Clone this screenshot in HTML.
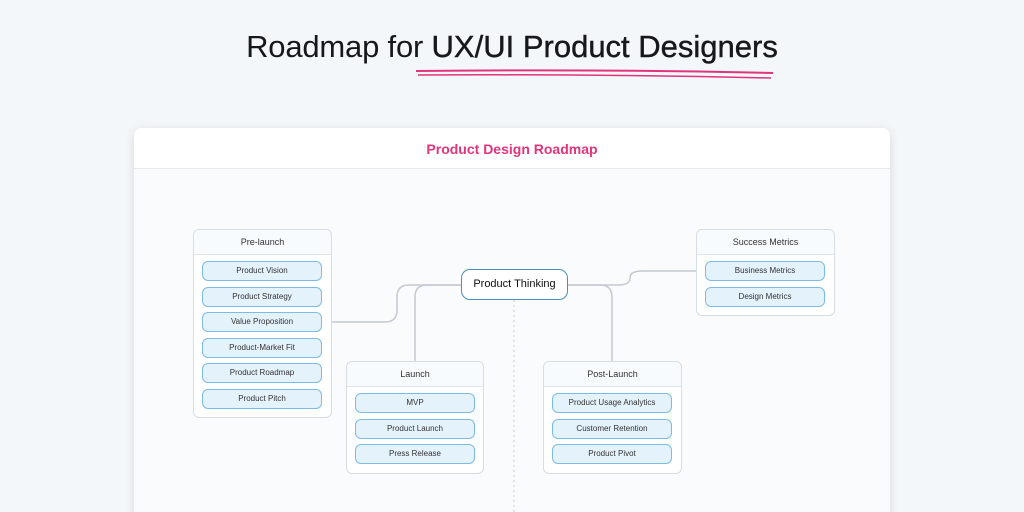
<!DOCTYPE html>
<html><head><meta charset="utf-8"><style>
*{margin:0;padding:0;box-sizing:border-box}
html,body{width:1024px;height:512px;overflow:hidden}
body{background:#f4f7f9;font-family:"Liberation Sans",sans-serif;position:relative}
.t{position:absolute;left:0;width:1024px;top:29px;text-align:center;font-size:31px;color:#16181c;letter-spacing:-0.2px}
.card{position:absolute;left:134px;top:128px;width:756px;height:400px;background:#fafbfc;border-radius:8px;box-shadow:0 2px 10px rgba(0,0,0,.12);overflow:hidden}
.hd{height:41px;background:#fff;border-bottom:1px solid #e6e8eb;text-align:center;line-height:42px;color:#e0357a;font-weight:bold;font-size:14px}
.g{position:absolute;background:#fff;border:1px solid #d6dde3;border-radius:6px}
.gh{height:25px;border-bottom:1px solid #dfe5ea;background:#f7fbfe;border-radius:6px 6px 0 0;text-align:center;line-height:24px;font-size:9px;color:#333}
.i{position:absolute;left:8px;width:120px;height:20px;border:1px solid #7cbbe6;background:#e4f2fc;border-radius:6px;text-align:center;line-height:18px;font-size:8px;color:#333}
.pt{position:absolute;left:461px;top:269px;width:107px;height:31px;border:1.5px solid #4a8fbf;border-radius:9px;background:#fff;text-align:center;line-height:28px;font-size:11px;color:#111}
</style></head><body>
<div class="t">Roadmap for <span style="letter-spacing:0;-webkit-text-stroke:0.4px #16181c">UX/UI Product Designers</span></div>
<svg style="position:absolute;left:0;top:0" width="1024" height="512">
<path d="M416 71 Q600 69 773 73" stroke="#e0357a" stroke-width="2" fill="none"/>
<path d="M418 75 Q600 74 771 78" stroke="#e0357a" stroke-width="1.5" fill="none"/>
</svg>
<div class="card"><div class="hd">Product Design Roadmap</div></div>
<svg style="position:absolute;left:0;top:0" width="1024" height="512">
<g stroke="#c3cad1" stroke-width="1.5" fill="none">
<path d="M331 322 H385 Q397 322 397 310 V297 Q397 285 409 285 H461"/>
<path d="M461 285 H427 Q415 285 415 297 V361"/>
<path d="M568 285 H600 Q612 285 612 297 V361"/>
<path d="M568 285 H618 Q630 285 630 278 Q630 271 642 271 H696"/>
</g>
<path d="M514 300 V512" stroke="#c8ced4" stroke-width="1" stroke-dasharray="2 3"/>
</svg>
<div class="pt">Product Thinking</div>
<div class="g" style="left:193px;top:229px;width:139px;height:189px"><div class="gh">Pre-launch</div>
<div class="i" style="top:31px">Product Vision</div><div class="i" style="top:57px">Product Strategy</div><div class="i" style="top:82px">Value Proposition</div><div class="i" style="top:108px">Product-Market Fit</div><div class="i" style="top:133px">Product Roadmap</div><div class="i" style="top:159px">Product Pitch</div></div>
<div class="g" style="left:346px;top:361px;width:138px;height:113px"><div class="gh">Launch</div>
<div class="i" style="top:31px">MVP</div><div class="i" style="top:57px">Product Launch</div><div class="i" style="top:82px">Press Release</div></div>
<div class="g" style="left:543px;top:361px;width:139px;height:113px"><div class="gh">Post-Launch</div>
<div class="i" style="top:31px">Product Usage Analytics</div><div class="i" style="top:57px">Customer Retention</div><div class="i" style="top:82px">Product Pivot</div></div>
<div class="g" style="left:696px;top:229px;width:139px;height:87px"><div class="gh">Success Metrics</div>
<div class="i" style="top:31px">Business Metrics</div><div class="i" style="top:57px">Design Metrics</div></div>
</body></html>
